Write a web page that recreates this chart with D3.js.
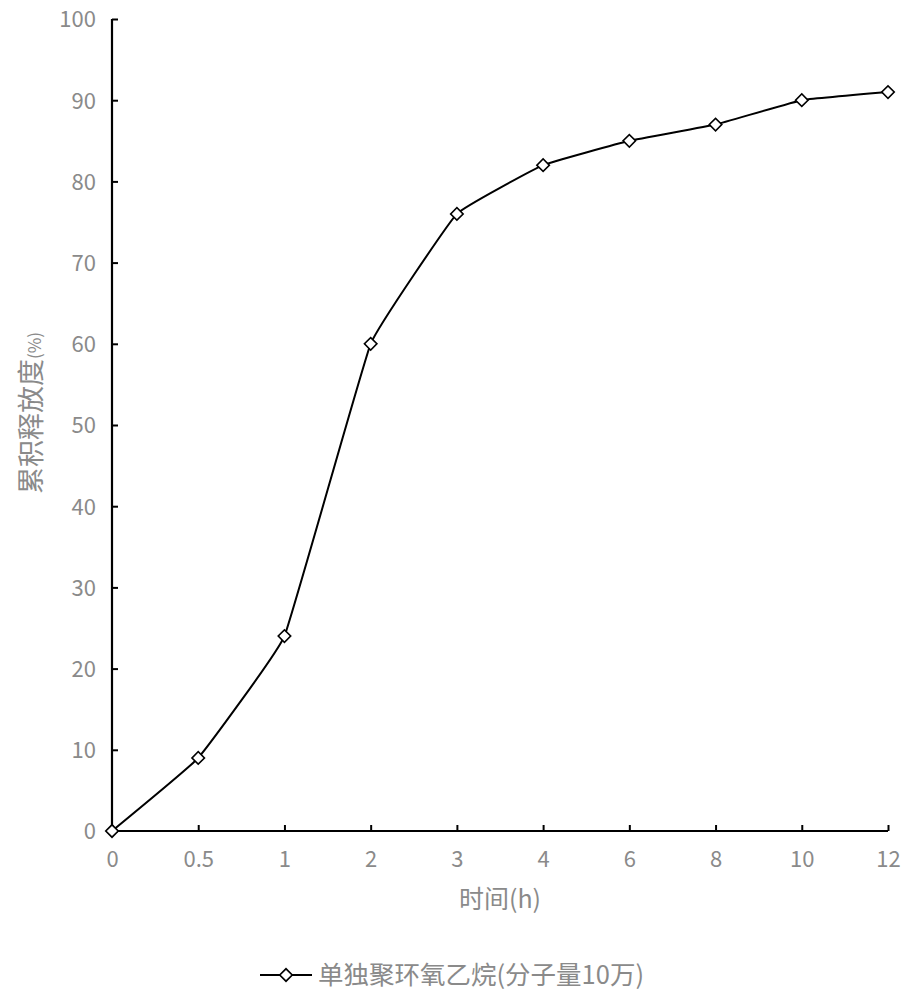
<!DOCTYPE html>
<html>
<head>
<meta charset="utf-8">
<script src="https://cdn.jsdelivr.net/npm/d3@7"></script>
<style>
  body { margin: 0; background: #fff; }
  text { font-family: "Noto Sans CJK SC", "Noto Sans", sans-serif; }
</style>
</head>
<body>
<script>
// time points (h), shown as evenly spaced categories
var times = ["0", "0.5", "1", "2", "3", "4", "6", "8", "10", "12"];
// cumulative release (%)
var release = [0, 9, 24, 60, 76, 82, 85, 87, 90, 91];
var yTicks = [0, 10, 20, 30, 40, 50, 60, 70, 80, 90, 100];
var seriesName = "单独聚环氧乙烷(分子量10万)";

var width = 911, height = 1000;
var svg = d3.select("body").append("svg")
    .attr("width", width)
    .attr("height", height);

var x = d3.scalePoint().domain(times).range([112, 888]);
var y = d3.scaleLinear().domain([0, 100]).range([831, 19]);

var gray = "#8a8a8a";

// y axis
var yAxis = svg.append("g")
    .attr("transform", "translate(112,0)")
    .call(d3.axisRight(y).tickValues(yTicks).tickSize(6).tickFormat(d3.format("d")));
yAxis.select(".domain").attr("stroke", "#000").attr("stroke-width", 2.2)
    .attr("d", "M0," + y(0) + "V" + y(100));
yAxis.selectAll(".tick line").attr("stroke", "#000").attr("stroke-width", 2);
yAxis.selectAll(".tick text")
    .attr("x", -16).attr("dy", "0.36em").attr("text-anchor", "end")
    .attr("fill", gray).style("font-size", "22px");

// x axis
var xAxis = svg.append("g")
    .attr("transform", "translate(0,831)")
    .call(d3.axisTop(x).tickSize(6));
xAxis.select(".domain").attr("stroke", "#000").attr("stroke-width", 2.2)
    .attr("d", "M112,0H888");
xAxis.selectAll(".tick line").attr("stroke", "#000").attr("stroke-width", 2);
xAxis.selectAll(".tick text")
    .attr("y", 36).attr("dy", 0)
    .attr("fill", gray).style("font-size", "22px");

// axis titles
svg.append("text")
    .attr("x", 500).attr("y", 908)
    .attr("text-anchor", "middle")
    .attr("fill", gray).style("font-size", "25px")
    .text("时间(h)");

svg.append("text")
    .attr("transform", "translate(41,413) rotate(-90)")
    .attr("text-anchor", "middle")
    .attr("fill", gray).style("font-size", "27px")
    .text("累积释放度")
    .append("tspan").style("font-size", "17px").text("(%)");

// line
var line = d3.line()
    .x(function(d, i) { return x(times[i]); })
    .y(function(d) { return y(d); })
    .curve(d3.curveCardinal.tension(0.75));

svg.append("path")
    .datum(release)
    .attr("fill", "none")
    .attr("stroke", "#000")
    .attr("stroke-width", 2)
    .attr("d", line);

var diamond = d3.symbol().type(d3.symbolSquare).size(78);

svg.selectAll(".marker")
    .data(release)
    .enter().append("path")
    .attr("class", "marker")
    .attr("d", diamond)
    .attr("transform", function(d, i) {
        return "translate(" + x(times[i]) + "," + y(d) + ") rotate(45)";
    })
    .attr("fill", "#fff")
    .attr("stroke", "#000")
    .attr("stroke-width", 1.6);

// legend
var lg = svg.append("g").attr("transform", "translate(0,975)");
lg.append("line")
    .attr("x1", 260).attr("x2", 312)
    .attr("stroke", "#000").attr("stroke-width", 2);
lg.append("path")
    .attr("d", diamond)
    .attr("transform", "translate(286,0) rotate(45)")
    .attr("fill", "#fff").attr("stroke", "#000").attr("stroke-width", 1.6);
lg.append("text")
    .attr("x", 318).attr("y", 9)
    .attr("fill", gray).style("font-size", "25.5px")
    .text(seriesName);
</script>
</body>
</html>
